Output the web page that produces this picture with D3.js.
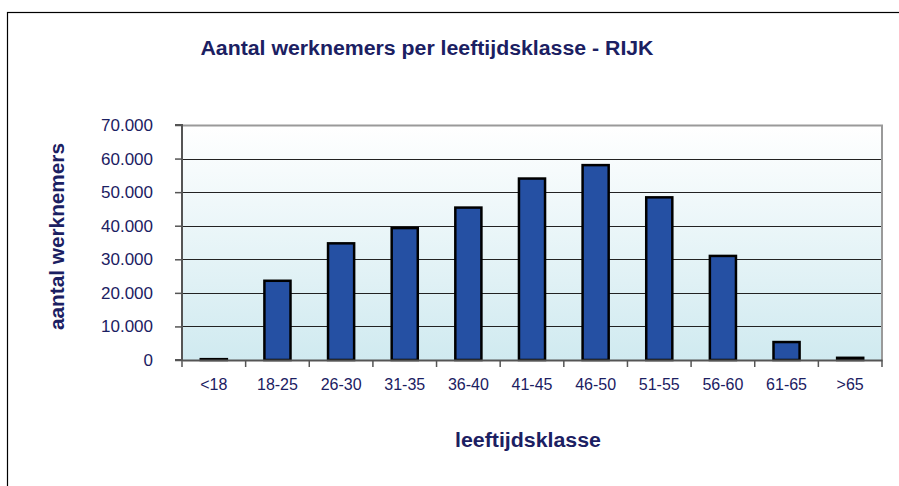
<!DOCTYPE html>
<html lang="nl">
<head>
<meta charset="UTF-8">
<title>Aantal werknemers per leeftijdsklasse - RIJK</title>
<script src="https://d3js.org/d3.v7.min.js"></script>
<style>
  body { margin: 0; background: #fff; }
  text { font-family: "Liberation Sans", Arial, sans-serif; fill: #1b2062; }
</style>
</head>
<body>
<svg width="899" height="486"></svg>
<script>
// data
var categories = ["<18", "18-25", "26-30", "31-35", "36-40", "41-45", "46-50", "51-55", "56-60", "61-65", ">65"];
var werknemers = [250, 23600, 34750, 39300, 45400, 54050, 58050, 48450, 31000, 5350, 650];
var yTicks = [0, 10000, 20000, 30000, 40000, 50000, 60000, 70000];

var svg = d3.select("svg");
var plotLeft = 182, plotRight = 882, plotTop = 125, plotBottom = 360;
var width = plotRight - plotLeft, height = plotBottom - plotTop;

// outer frame
svg.append("rect")
  .attr("x", 7.5).attr("y", 12.5)
  .attr("width", 1000).attr("height", 1000)
  .attr("fill", "none").attr("stroke", "#000").attr("stroke-width", 1.2);

var defs = svg.append("defs");
var grad = defs.append("linearGradient").attr("id", "bg")
  .attr("x1", 0).attr("y1", 0).attr("x2", 0).attr("y2", 1);
grad.append("stop").attr("offset", "0%").attr("stop-color", "#ffffff");
grad.append("stop").attr("offset", "100%").attr("stop-color", "#d0eaf0");

var x = d3.scaleBand().domain(categories).range([0, width]).paddingInner(0.59).paddingOuter(0.295);
var xTicks = d3.scaleBand().domain(categories).range([0, width]);
var y = d3.scaleLinear().domain([0, 70000]).range([height, 0]);

var g = svg.append("g").attr("transform", "translate(" + plotLeft + "," + plotTop + ")");

g.append("rect").attr("width", width).attr("height", height).attr("fill", "url(#bg)");

// gridlines
g.selectAll(".grid").data(yTicks.filter(function(d) { return d > 0 && d < 70000; }))
  .enter().append("line")
  .attr("x1", 0).attr("x2", width)
  .attr("y1", function(d) { return Math.round(y(d)) + 0.5; })
  .attr("y2", function(d) { return Math.round(y(d)) + 0.5; })
  .attr("stroke", "#222").attr("stroke-width", 1);

// plot border top/right
g.append("path")
  .attr("d", "M0,0.5H" + width + "V" + height)
  .attr("fill", "none").attr("stroke", "#9a9a9a").attr("stroke-width", 2);

// bars
g.selectAll(".bar").data(werknemers).enter().append("rect")
  .attr("class", "bar")
  .attr("x", function(d, i) { return x(categories[i]); })
  .attr("y", function(d) { return y(d); })
  .attr("width", x.bandwidth())
  .attr("height", function(d) { return height - y(d); })
  .attr("fill", "#2550a3").attr("stroke", "#000").attr("stroke-width", 2.5);

// y axis
var yAxis = g.append("g")
  .call(d3.axisLeft(y).tickValues(yTicks).tickSize(7).tickPadding(22)
    .tickFormat(function(d) { return d === 0 ? "0" : d3.format(",")(d).replace(/,/g, "."); }));
yAxis.select(".domain").attr("stroke", "#555").attr("stroke-width", 2).attr("d", "M-7,0H0V" + height + "H-7");
yAxis.selectAll(".tick line").attr("stroke", "#555").attr("stroke-width", 1.5);
yAxis.selectAll("text").attr("font-size", "17px").style("fill", "#1b2062");

// x axis
var xAxis = g.append("g").attr("transform", "translate(0," + height + ")")
  .call(d3.axisBottom(xTicks).tickValues([]).tickSizeOuter(0));
xAxis.select(".domain").attr("stroke", "#555").attr("stroke-width", 2);
xAxis.selectAll(".xt").data(d3.range(categories.length + 1)).enter().append("line")
  .attr("x1", function(i) { return i * xTicks.step(); })
  .attr("x2", function(i) { return i * xTicks.step(); })
  .attr("y1", 0).attr("y2", 7)
  .attr("stroke", "#555").attr("stroke-width", 1.5);
xAxis.selectAll(".xl").data(categories).enter().append("text")
  .attr("x", function(d) { return xTicks(d) + xTicks.bandwidth() / 2; })
  .attr("y", 30)
  .attr("text-anchor", "middle")
  .attr("font-size", "16px")
  .text(function(d) { return d; });

// titles
svg.append("text").attr("x", 427).attr("y", 55).attr("text-anchor", "middle")
  .attr("font-size", "20px").attr("font-weight", "bold")
  .attr("textLength", 453).attr("lengthAdjust", "spacingAndGlyphs")
  .text("Aantal werknemers per leeftijdsklasse - RIJK");

svg.append("text").attr("transform", "translate(64,236.5) rotate(-90)")
  .attr("text-anchor", "middle").attr("font-size", "20px").attr("font-weight", "bold")
  .attr("textLength", 187).attr("lengthAdjust", "spacingAndGlyphs")
  .text("aantal werknemers");

svg.append("text").attr("x", 528).attr("y", 447).attr("text-anchor", "middle")
  .attr("font-size", "20px").attr("font-weight", "bold")
  .attr("textLength", 146).attr("lengthAdjust", "spacingAndGlyphs")
  .text("leeftijdsklasse");
</script>
</body>
</html>
